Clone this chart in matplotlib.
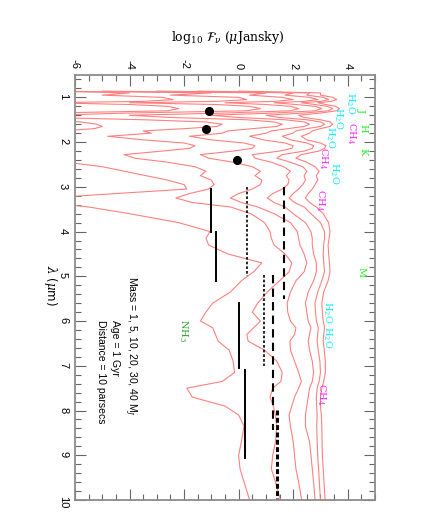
import matplotlib
matplotlib.use("Agg")
import matplotlib.pyplot as plt
from matplotlib.ticker import MultipleLocator

plt.rcParams["axes.unicode_minus"] = False
plt.rcParams["mathtext.fontset"] = "dejavuserif"

# wavelength grid (microns), shared by all model spectra
lam = [0.86, 0.90, 0.95, 1.00, 1.05, 1.09, 1.12, 1.16, 1.20, 1.25,
       1.30, 1.35, 1.40, 1.45, 1.50, 1.55, 1.60, 1.65, 1.70, 1.75,
       1.80, 1.87, 1.95, 2.02, 2.08, 2.14, 2.20, 2.28, 2.36, 2.45,
       2.55, 2.65, 2.75, 2.85, 2.95, 3.05, 3.15, 3.25, 3.35, 3.45,
       3.6, 3.8, 4.0, 4.15, 4.3, 4.5, 4.7, 4.9, 5.1, 5.35,
       5.6, 5.8, 6.0, 6.15, 6.3, 6.45, 6.65, 6.9, 7.15, 7.35,
       7.5, 7.7, 7.9, 8.1, 8.35, 8.7, 9.0, 9.3, 9.6, 10.0]

masses = [1, 5, 10, 20, 30, 40]

# log10 F_nu (microJansky) for each mass
f_1 = [-7, -4.0, -5.0, -2.8, -2.4, -3.5, -7, -4.0, -2.6, -2.2,
       -2.6, -7, -7, -7, -7, -5.8, -5.2, -5.0, -5.3, -6.5,
       -7, -7, -7, -7, -6.5, -6.6, -7, -7, -7, -6.3,
       -5.0, -4.2, -3.4, -2.6, -2.0, -1.9, -4.5, -7, -7, -5.5,
       -4.0, -2.2, -1.05, -1.2, -1.1, -0.4, 0.85, 0.55, 0.1, -0.3,
       -0.95, -1.2, -1.4, -0.95, -0.85, -0.75, -0.35, -0.2, -0.15, -0.6,
       -1.9, -1.7, -0.5, 0.0, 0.2, 0.1, 0.0, 0.05, 0.2, 0.4]
f_5 = [-7, -1.0, -2.5, 0.0, 0.3, -0.8, -4.0, -0.8, 0.4, 0.8,
       0.3, -4.0, -7, -7, -3.5, -1.2, -0.6, -0.8, -2.0, -3.5,
       -3.2, -4.8, -3.5, -2.0, -1.6, -1.8, -2.8, -4.2, -3.8, -2.6,
       -1.6, -1.2, -1.4, -1.0, -0.9, -1.1, -1.8, -2.3, -1.7, -0.3,
       0.45, 0.95, 1.15, 1.2, 1.3, 1.7, 1.95, 1.85, 1.5, 1.05,
       0.7, 0.5, 0.8, 0.55, 0.3, 0.35, 0.95, 1.4, 1.6, 1.55,
       1.25, 1.15, 1.27, 1.35, 1.4, 1.35, 1.25, 1.2, 1.35, 1.53]
f_10 = [-5.0, 1.0, 0.4, 1.6, 2.0, 1.3, -0.5, 1.0, 1.9, 2.2,
        1.9, -0.5, -4.0, -2.5, 0.3, 1.3, 1.6, 1.4, 0.5, -0.4,
        -0.6, -1.8, -1.0, 0.2, 0.6, 0.5, -0.2, -1.4, -1.1, -0.2,
        0.5, 0.8, 0.6, 0.85, 0.8, 0.5, 0.0, -0.3, 0.1, 0.7,
        1.3, 1.9, 2.15, 2.2, 2.25, 2.4, 2.5, 2.4, 2.1, 1.9,
        1.78, 1.8, 1.9, 2.1, 2.05, 1.88, 1.9, 2.05, 2.2, 2.3,
        2.2, 2.05, 1.95, 1.85, 1.9, 2.0, 2.05, 2.1, 2.2, 2.31]
f_20 = [-3.0, 2.0, 1.7, 2.6, 2.9, 2.4, 1.3, 2.1, 2.8, 3.05,
        2.8, 1.3, -1.0, 0.0, 1.7, 2.4, 2.6, 2.4, 1.8, 1.2,
        1.0, 0.4, 0.9, 1.7, 2.0, 1.95, 1.5, 0.5, 0.6, 1.2,
        1.65, 1.9, 1.75, 1.85, 1.8, 1.6, 1.25, 1.05, 1.3, 1.7,
        2.0, 2.45, 2.65, 2.7, 2.7, 2.75, 2.85, 2.85, 2.75, 2.55,
        2.45, 2.5, 2.55, 2.65, 2.6, 2.55, 2.6, 2.7, 2.75, 2.7,
        2.6, 2.55, 2.5, 2.45, 2.45, 2.6, 2.65, 2.7, 2.75, 2.8]
f_30 = [-1.5, 2.6, 2.5, 3.1, 3.3, 3.0, 2.3, 2.8, 3.25, 3.45,
        3.3, 2.4, 1.0, 1.5, 2.5, 3.0, 3.15, 3.0, 2.5, 2.1,
        2.0, 1.6, 1.9, 2.5, 2.75, 2.7, 2.4, 1.6, 1.4, 1.9,
        2.35, 2.5, 2.4, 2.45, 2.35, 2.2, 2.0, 1.85, 2.05, 2.4,
        2.65, 3.0, 3.15, 3.15, 3.12, 3.1, 3.12, 3.15, 3.05, 2.9,
        2.8, 2.82, 2.85, 2.92, 2.9, 2.88, 2.92, 2.98, 3.0, 2.95,
        2.88, 2.85, 2.86, 2.88, 2.86, 2.88, 2.9, 2.93, 2.96, 3.0]
f_40 = [0.0, 3.0, 3.0, 3.45, 3.6, 3.4, 2.9, 3.2, 3.55, 3.7,
        3.6, 3.0, 2.2, 2.4, 3.0, 3.35, 3.45, 3.35, 3.0, 2.7,
        2.6, 2.3, 2.5, 3.0, 3.2, 3.15, 2.95, 2.3, 2.1, 2.5,
        2.8, 2.95, 2.85, 2.9, 2.8, 2.7, 2.55, 2.45, 2.6, 2.85,
        3.1, 3.3, 3.35, 3.32, 3.28, 3.3, 3.33, 3.35, 3.28, 3.12,
        3.05, 3.07, 3.1, 3.15, 3.12, 3.1, 3.14, 3.18, 3.18, 3.12,
        3.05, 3.0, 3.0, 3.03, 3.05, 3.06, 3.07, 3.1, 3.13, 3.17]
spectra = [f_1, f_5, f_10, f_20, f_30, f_40]

# photometric points
dot_lam = [1.30, 1.70, 2.40]
dot_f = [-1.08, -1.21, -0.07]

# sensitivity limits: flux level, start and end wavelength
solid_f = [-1.0, -0.83, 0.0, 0.23]
solid_l0 = [3.05, 4.0, 5.6, 7.1]
solid_l1 = [4.0, 5.1, 7.05, 9.07]
short_f = [0.31, 0.94]
short_l0 = [3.0, 4.98]
short_l1 = [5.0, 7.0]
long_f = [1.67, 1.26]
long_l0 = [3.0, 4.98]
long_l1 = [5.5, 8.44]
thick_f = [1.41]
thick_l0 = [7.98]
thick_l1 = [10.0]

fig = plt.figure(figsize=(4.25, 5.3), dpi=100)
ax = fig.add_axes([75 / 425, 30 / 530, 300 / 425, 425 / 530])

for f in spectra:
    ax.plot(f, lam, color="#ff8080", lw=0.8)

ax.plot(dot_f, dot_lam, "o", color="black", ms=5.5)

for x, a, b in zip(solid_f, solid_l0, solid_l1):
    ax.plot([x, x], [a, b], color="black", lw=1.4)
for x, a, b in zip(short_f, short_l0, short_l1):
    ax.plot([x, x], [a, b], color="black", lw=1.2, dashes=(1.6, 1.2))
for x, a, b in zip(long_f, long_l0, long_l1):
    ax.plot([x, x], [a, b], color="black", lw=1.5, dashes=(4, 2.5))
for x, a, b in zip(thick_f, thick_l0, thick_l1):
    ax.plot([x, x], [a, b], color="black", lw=2.2, dashes=(1.6, 0.8))

ax.set_xlim(-6, 5)
ax.set_ylim(10, 0.5)
ax.xaxis.set_major_locator(MultipleLocator(2))
ax.xaxis.set_minor_locator(MultipleLocator(0.5))
ax.yaxis.set_major_locator(MultipleLocator(1))
ax.yaxis.set_minor_locator(MultipleLocator(0.2))
ax.tick_params(which="both", direction="in", top=True, bottom=True,
               left=True, right=True, labeltop=True, labelbottom=False,
               color="#666666", width=0.8)
ax.tick_params(which="major", length=8)
ax.tick_params(which="minor", length=4)
ax.tick_params(axis="x", labelrotation=-90, labelsize=8, pad=4)
ax.tick_params(axis="y", labelrotation=-90, labelsize=8, pad=5)
for lab in ax.get_xticklabels() + ax.get_yticklabels():
    lab.set_family("Liberation Sans")
for s in ax.spines.values():
    s.set_color("#8c8c8c")
    s.set_linewidth(1.3)

fig.text(0.537, 1 - 38 / 530, r"log$_{10}$ $\mathcal{F}_\nu$ ($\mu$Jansky)",
         ha="center", va="center", fontsize=9, family="DejaVu Serif")
fig.text(50 / 425, 1 - 285 / 530, r"$\lambda$ ($\mu$m)", rotation=-90,
         ha="center", va="center", fontsize=8.5, family="DejaVu Sans")

green = "#22ee22"
cyan = "#00eeff"
mag = "#ff22ff"
lab_kw = dict(rotation=-90, ha="center", va="center", fontsize=7,
              family="DejaVu Serif")
for t, x, y in [("J", 4.5, 1.29), ("H", 4.55, 1.69), ("K", 4.55, 2.22),
                ("M", 4.5, 4.9)]:
    ax.text(x, y, t, color=green, **lab_kw)
for x, y in [(4.09, 1.13), (3.64, 1.47), (3.35, 1.9), (3.5, 2.7),
             (3.24, 5.8), (3.24, 6.36)]:
    ax.text(x, y, r"H$_2$O", color=cyan, **lab_kw)
for x, y in [(4.12, 1.8), (3.1, 2.36), (3.0, 3.29), (3.03, 7.64)]:
    ax.text(x, y, r"CH$_4$", color=mag, **lab_kw)
ax.text(-2.03, 6.2, r"NH$_3$", color="#2e9e2e", **lab_kw)

txt_kw = dict(rotation=-90, ha="center", va="top", fontsize=7.5,
              family="Liberation Sans")
ax.text(-3.98, 5.0, r"Mass = " + ", ".join(str(m) for m in masses) + r" M$_J$",
        **txt_kw)
ax.text(-4.53, 5.98, "Age = 1 Gyr", **txt_kw)
ax.text(-5.05, 5.98, "Distance = 10 parsecs", **txt_kw)

fig.savefig("out.png", dpi=100)
